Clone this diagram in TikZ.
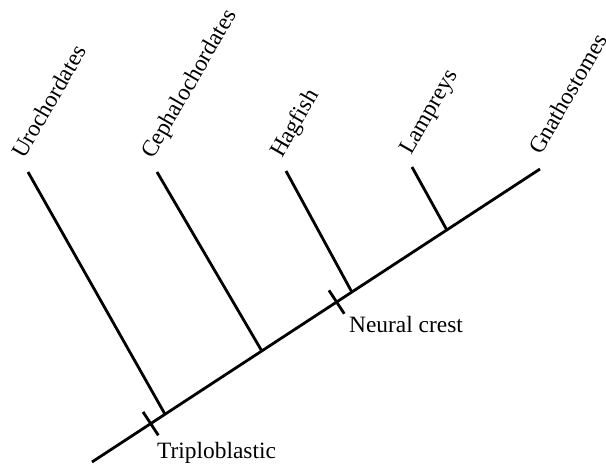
\documentclass[tikz,border=0pt]{standalone}
\usepackage{fontspec}
\setmainfont{Liberation Serif}
\usetikzlibrary{calc}
\begin{document}
\begin{tikzpicture}[x=1pt,y=-1pt,
  stem/.style={line width=2.8pt, line cap=butt},
  taxon/.style={rotate=60, anchor=base west, inner sep=0pt, font=\fontsize{23.4}{24}\selectfont},
  trait/.style={anchor=base west, inner sep=0pt, font=\fontsize{23.4}{24}\selectfont}]
\useasboundingbox (0,0) rectangle (606,466);
% main axis
\coordinate (root) at (92,462);
\coordinate (gtip) at (540,169);
% branch points on the axis
\coordinate (j1) at ($(root)!0.163!(gtip)$);
\coordinate (j2) at ($(root)!0.379!(gtip)$);
\coordinate (j3) at ($(root)!0.580!(gtip)$);
\coordinate (j4) at ($(root)!0.792!(gtip)$);
% character marks on the axis
\coordinate (k1) at ($(root)!0.131!(gtip)$);
\coordinate (k2) at ($(root)!0.546!(gtip)$);
% branch tips
\coordinate (t1) at (28,172);
\coordinate (t2) at (157,172);
\coordinate (t3) at (286,171);
\coordinate (t4) at (412,167);

\draw[stem] (root) -- (gtip);
\draw[stem] (j1) -- (t1);
\draw[stem] (j2) -- (t2);
\draw[stem] (j3) -- (t3);
\draw[stem] (j4) -- (t4);
\draw[stem] ($(k1)!14pt!90:(gtip)$) -- ($(k1)!14pt!-90:(gtip)$);
\draw[stem] ($(k2)!14pt!90:(gtip)$) -- ($(k2)!14pt!-90:(gtip)$);

% taxon names
\node[taxon] (n1) at ($(t1)+(-4,-12)$) {Urochordates};
\node[taxon] (n2) at ($(t2)+(-4,-12)$) {Cephalochordates};
\node[taxon] (n3) at ($(t3)+(-4,-12)$) {Hagfish};
\node[taxon] (n4) at ($(t4)+(-1,-11)$) {Lampreys};
\node[taxon] (n5) at ($(gtip)+(1,-13)$) {Gnathostomes};

% characters
\node[trait] (c1) at (157,458) {Triploblastic};
\node[trait] (c2) at (349,332) {Neural crest};
\end{tikzpicture}
\end{document}
